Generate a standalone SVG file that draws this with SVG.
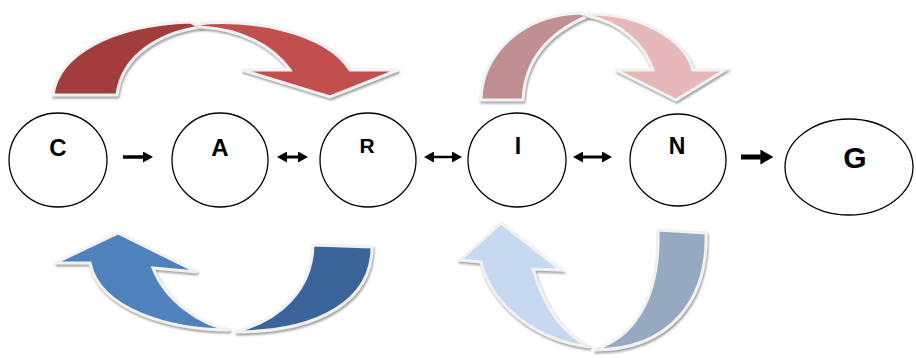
<svg xmlns="http://www.w3.org/2000/svg" width="916" height="358" viewBox="0 0 916 358">
<style>
.node{fill:#fff;stroke:#000;stroke-width:1.3}
.lbl{font-family:"Liberation Sans",Arial,sans-serif;font-weight:bold;fill:#000;text-anchor:middle}
.band{stroke:#f2f2f2;stroke-width:3;stroke-linejoin:miter;filter:url(#sh)}
.conn{stroke:#000;fill:none}
</style>
<defs>
<filter id="sh" x="-10%" y="-10%" width="120%" height="130%">
<feDropShadow dx="1" dy="2" stdDeviation="1.2" flood-color="#888" flood-opacity="0.8"/>
</filter>
<marker id="ah" viewBox="0 0 10 10" refX="2" refY="5" markerWidth="10" markerHeight="11" markerUnits="userSpaceOnUse" orient="auto-start-reverse" preserveAspectRatio="none">
<path d="M0,0 L10,5 L0,10 Z" fill="#000"/>
</marker>
<marker id="ahb" viewBox="0 0 10 10" refX="2" refY="5" markerWidth="13" markerHeight="15" markerUnits="userSpaceOnUse" orient="auto" preserveAspectRatio="none">
<path d="M0,0 L10,5 L0,10 Z" fill="#000"/>
</marker>
</defs>
<rect width="916" height="358" fill="#fff"/>

<g id="cycle-arrows">
<path class="band" fill="#a33e3e" d="M53,95 C58,55 110,25 190,22 L200,27 C160,33 122,55 117,95 Z"/>
<path class="band" fill="#c0504d" d="M198,24 C245,18 325,30 350,70 L398,70 L330,97 L242,70 L290,70 C272,45 240,29 200,27 Z"/>
<path class="band" fill="#bf8f92" d="M481,100 C482,55 520,15 580,13 L588,16 C555,30 525,55 523,100 Z"/>
<path class="band" fill="#e6b8b7" d="M586,14 C640,12 685,40 693,70 L725,70 L676,100 L616,70 L653,70 C645,45 620,22 588,16 Z"/>
<path class="band" fill="#4f81bd" d="M230,330 C170,330 100,310 90,263 L55,263 L118,233 L197,272 L153,268 C165,300 200,325 230,330 Z"/>
<path class="band" fill="#3b659a" d="M313,245 L372,247 C372,300 320,332 235,332 C280,320 312,290 313,245 Z"/>
<path class="band" fill="#c6d9f1" d="M590,347 C530,340 490,300 481,262 L460,260 L501,223 L561,270 L533,269 C545,310 565,335 590,347 Z"/>
<path class="band" fill="#95a9c0" d="M658,230 L706,233 C708,300 670,350 594,350 C640,335 660,290 658,230 Z"/>
</g>

<g id="connectors">
<line class="conn" stroke-width="3.5" x1="123" y1="157" x2="145" y2="157" marker-end="url(#ah)"/>
<line class="conn" stroke-width="3" x1="285" y1="157" x2="300" y2="157" marker-start="url(#ah)" marker-end="url(#ah)"/>
<line class="conn" stroke-width="2.5" x1="432" y1="157" x2="454" y2="157" marker-start="url(#ah)" marker-end="url(#ah)"/>
<line class="conn" stroke-width="3" x1="581" y1="157" x2="604" y2="157" marker-start="url(#ah)" marker-end="url(#ah)"/>
<line class="conn" stroke-width="5" x1="741" y1="157" x2="763" y2="157" marker-end="url(#ahb)"/>
</g>

<g id="node-C"><ellipse class="node" cx="58" cy="160" rx="49" ry="47"/><text class="lbl" x="58" y="156" font-size="24">C</text></g>
<g id="node-A"><ellipse class="node" cx="220" cy="160" rx="48" ry="47"/><text class="lbl" x="220" y="156" font-size="24">A</text></g>
<g id="node-R"><ellipse class="node" cx="368" cy="160" rx="48" ry="47"/><text class="lbl" x="367" y="153" font-size="21">R</text></g>
<g id="node-I"><ellipse class="node" cx="517" cy="160" rx="49" ry="47"/><text class="lbl" x="518" y="154" font-size="23">I</text></g>
<g id="node-N"><ellipse class="node" cx="678" cy="160" rx="48" ry="46"/><text class="lbl" x="677" y="154" font-size="23">N</text></g>
<g id="node-G"><ellipse class="node" cx="849" cy="167" rx="64" ry="48"/><text class="lbl" x="855" y="168" font-size="30">G</text></g>
</svg>
